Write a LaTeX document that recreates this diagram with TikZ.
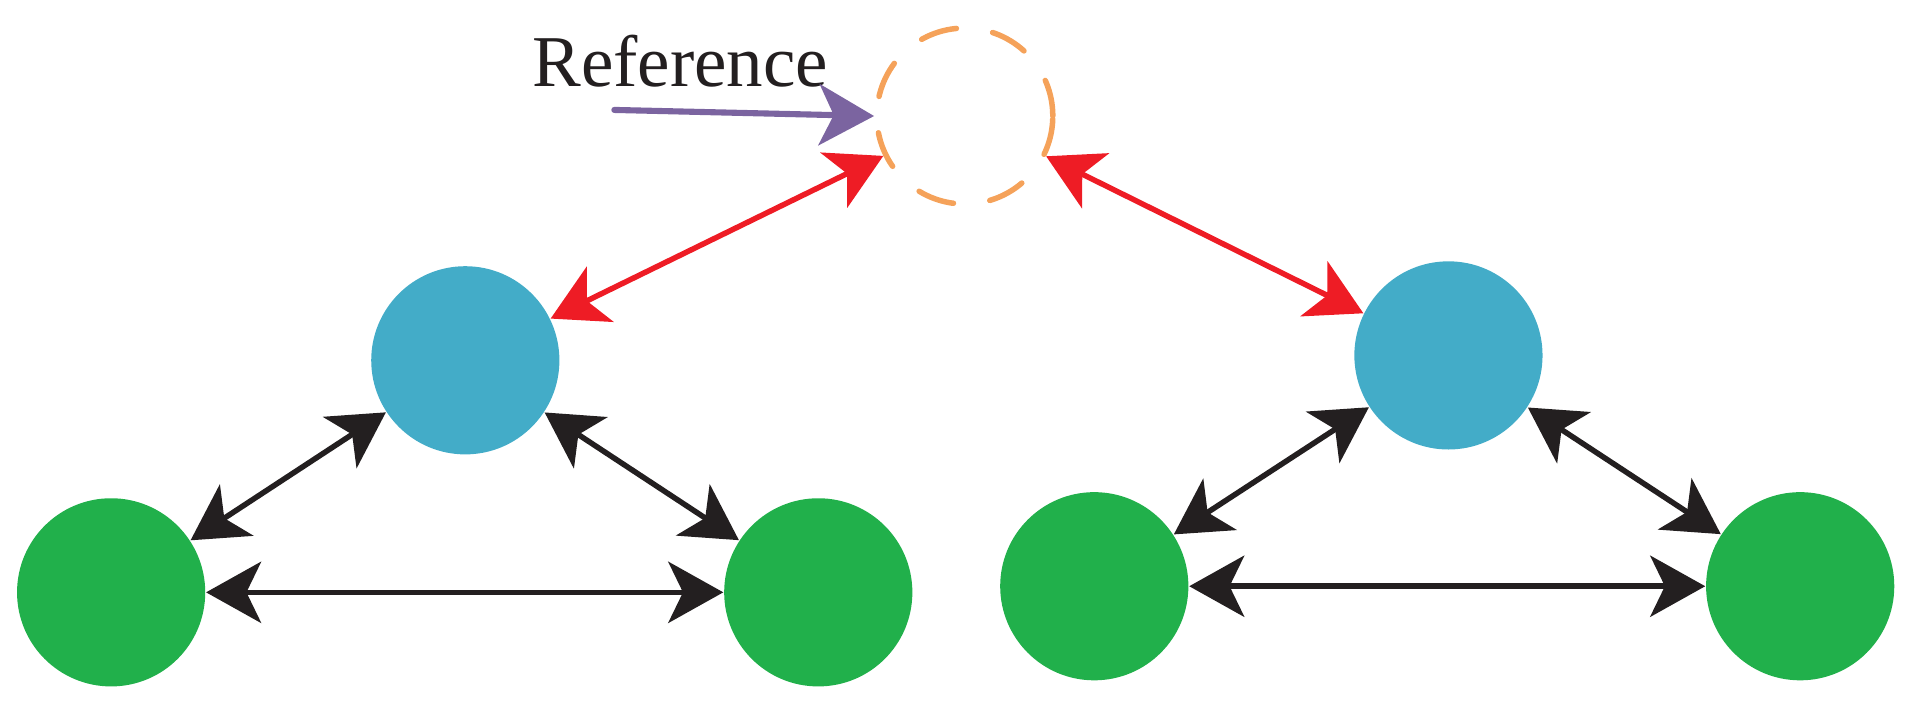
\documentclass[tikz,border=0pt]{standalone}
\usepackage{fontspec}
\setmainfont{Liberation Serif}
\usetikzlibrary{arrows.meta}
\definecolor{cb}{HTML}{43ACC8}
\definecolor{cg}{HTML}{21B04B}
\definecolor{cr}{HTML}{EE1C25}
\definecolor{cp}{HTML}{7B64A0}
\definecolor{co}{HTML}{F5A25A}
\definecolor{ck}{HTML}{231F20}
\begin{document}
\begin{tikzpicture}[x=0.01cm,y=-0.01cm,
  >={Stealth[length=0.45cm,width=0.5cm,inset=0.12cm]},
  blue/.style={circle,fill=cb,minimum size=1.54cm,inner sep=0},
  green/.style={circle,fill=cg,minimum size=1.54cm,inner sep=0},
  con/.style={line width=0.045cm,<->},
]
\useasboundingbox (0,0) rectangle (1568,596);
\node[circle,draw=co,line width=0.045cm,dash pattern=on 0.3cm off 0.3cm,line cap=round,minimum size=1.44cm,inner sep=0] (ref) at (790,95) {};
\node[font=\fontsize{17pt}{20pt}\selectfont,text=ck] (lab) at (557,50) {Reference};
\coordinate (s) at (503,90);
\draw[cp,line width=0.05cm,line cap=round,->] (s) -- (ref.west);
\node[blue] (b1) at (381,295) {};
\node[green] (g1) at (91,485) {};
\node[green] (g2) at (670,485) {};
\node[blue] (b2) at (1186,291) {};
\node[green] (g3) at (896,480) {};
\node[green] (g4) at (1474,480) {};
\draw[con,cr] (b1) -- (ref);
\draw[con,cr] (ref) -- (b2);
\draw[con,ck] (b1) -- (g1);
\draw[con,ck] (b1) -- (g2);
\draw[con,ck] (g1) -- (g2);
\draw[con,ck] (b2) -- (g3);
\draw[con,ck] (b2) -- (g4);
\draw[con,ck] (g3) -- (g4);
\end{tikzpicture}
\end{document}
